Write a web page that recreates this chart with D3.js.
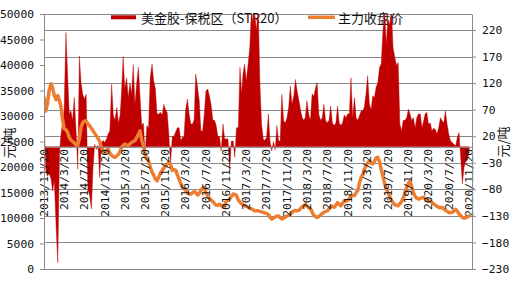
<!DOCTYPE html>
<html><head><meta charset="utf-8">
<script src="https://cdn.jsdelivr.net/npm/d3@7"></script>
<style>body{margin:0;background:#fff}svg{display:block}</style>
</head><body><svg id="c" width="511" height="288"></svg>
<script>
// ---- data (10-day samples) ----
const spread2013=[55,-45,-55,-50];
const spread2014=[-60,-83,-64,-152,-218,-14,20,45,68,215,137,62,68,50,93,30,-42,171,120,99,90,99,-80,-90,-117,-40,5,-5,3,-58,8,12,8,15,24,30];
const spread2015=[118,60,50,74,45,60,100,170,110,130,93,120,100,155,80,120,150,93,40,45,-13,40,35,130,156,124,110,62,62,65,60,80,70,65,24,-33];
const spread2016=[20,20,28,36,36,11,18,18,70,90,62,43,43,50,137,112,87,30,30,60,105,109,96,80,50,50,40,20,20,-8,43,15,15,15,-45,11];
const spread2017=[11,-20,36,36,150,100,137,156,124,156,187,260,230,250,220,260,120,43,15,12,18,62,10,-8,10,-6,40,11,11,99,49,45,55,74,115,80];
const spread2018=[96,127,105,87,68,55,50,55,87,60,50,100,95,110,121,60,50,55,80,50,45,50,77,45,40,45,77,45,40,45,60,55,62,62,130,55];
const spread2019=[93,55,50,60,68,68,75,99,134,80,70,96,93,112,120,150,156,218,260,193,240,230,260,187,168,153,159,43,30,50,50,55,71,62,50,55];
const spread2020=[36,55,62,62,36,49,62,65,43,45,30,35,33,24,35,55,49,45,68,43,24,11,8,5,2,18,27,-20,-70,-39,-26,-25,-8];

const price2013=[33600,31000,32500,35000];
const price2014=[36300,35500,34000,33200,34000,33000,32000,29500,27500,27300,26800,25800,25300,25000,24700,24300,24300,25600,27800,28700,29000,29000,28500,28100,27600,27100,26600,26100,25600,25000,23800,23200,22800,23300,23600,22700];
const price2015=[22300,22000,21900,22200,22500,23100,23800,24200,24500,24300,24200,24500,24800,25000,25150,25800,26400,27100,25200,24200,22500,21600,21200,20000,19000,18400,17700,17300,18000,18800,19300,19800,20200,20600,20900,20500];
const price2016=[19300,19500,19400,18400,17600,16700,16100,15800,15400,14900,14700,14700,14900,15200,15000,14500,14800,15500,15800,16000,14900,14400,13900,13500,13200,12800,12500,12500,12700,12500,12100,12600,13300,13500,13700,14200];
const price2017=[14700,14600,14400,13500,13100,12800,12600,12400,12300,12100,11900,11800,11600,11400,11400,11400,11300,11200,11100,11000,10900,10700,10100,9800,10000,10200,10400,10400,10000,9800,10000,10200,10400,10500,10800,11100];
const price2018=[11400,11500,11400,11500,11900,12200,12400,12700,12300,12000,11800,11200,10500,10300,10100,10300,10600,10900,11100,11300,11400,11800,12300,12300,12100,12500,13000,12700,12400,12900,13400,13400,13400,13800,14300,14400];
const price2019=[14400,15000,15400,17000,18000,18600,19500,20200,20800,21200,20700,20600,21100,21800,21900,21000,19500,18200,16800,15800,15000,14200,13500,13000,12600,12500,12400,12800,13200,13900,15000,16000,16800,17200,16200,15000];
const price2020=[14200,13900,13700,13800,14000,14000,13800,13600,13400,13300,13100,12800,12500,12300,12100,12000,12100,11800,11500,11300,11100,11100,11100,11400,11700,11300,10800,10500,10100,10000,10000,10300,10400];

const xTickLabels=["2013/11/20","2014/3/20","2014/7/20","2014/11/20","2015/3/20","2015/7/20","2015/11/20","2016/3/20","2016/7/20","2016/11/20","2017/3/20","2017/7/20","2017/11/20","2018/3/20","2018/7/20","2018/11/20","2019/3/20","2019/7/20","2019/11/20","2020/3/20","2020/7/20","2020/11/20"];
const leftTicks=[0,5000,10000,15000,20000,25000,30000,35000,40000,45000,50000];
const rightTicks=[220,170,120,70,20,-30,-80,-130,-180,-230];
const seriesNames=["美金胶-保税区（STR20）","主力收盘价"];
const unitLabel="元/吨";
const firstDate="2013-11-21", lastDate="2020-11-21", sampleDays=[1,11,21];

// ---- build ----
const parseDash=d3.timeParse("%Y-%m-%d"), parseSlash=d3.timeParse("%Y/%m/%d");
const d0=parseDash(firstDate), d1=parseDash(lastDate);
const dates=[];
for(let y=2013;y<=2020;y++)for(let m=0;m<12;m++)for(const d of sampleDays){const t=new Date(y,m,d);if(t>=d0&&t<=d1)dates.push(t);}
const spread=[].concat(spread2013,spread2014,spread2015,spread2016,spread2017,spread2018,spread2019,spread2020);
const price=[].concat(price2013,price2014,price2015,price2016,price2017,price2018,price2019,price2020);

const L=44,R=472,T=14,B=269;
const x=d3.scaleTime().domain([new Date(2013,10,20),new Date(2020,11,8)]).range([L,R]);
const yL=d3.scaleLinear().domain([0,50000]).range([B,T]);
const yR=d3.scaleLinear().domain([-230,-230+(B-T)*450/239]).range([B,T]);

const svg=d3.select("#c");
svg.append("rect").attr("width",511).attr("height",288).attr("fill","#fff");
const grid="#8a8a8a";
const numFont="'DejaVu Sans Mono', monospace";
const cjkFont="'Noto Sans CJK SC', sans-serif";

// gridlines (secondary axis) + top border
svg.append("g").selectAll("line").data(rightTicks).join("line")
  .attr("x1",L).attr("x2",R).attr("y1",d=>Math.round(yR(d))+0.5).attr("y2",d=>Math.round(yR(d))+0.5)
  .attr("stroke",grid).attr("stroke-width",1);
svg.append("line").attr("x1",L).attr("x2",R).attr("y1",T+0.5).attr("y2",T+0.5).attr("stroke",grid);

// legend (behind the marks)
const lg=svg.append("g");
lg.append("rect").attr("x",111).attr("y",15.3).attr("width",25).attr("height",4).attr("fill","#C00000");
lg.append("text").attr("x",141).attr("y",17.5).attr("dominant-baseline","central").attr("font-family",cjkFont).attr("font-size",13).attr("fill","#111").text(seriesNames[0]);
lg.append("line").attr("x1",308).attr("x2",335).attr("y1",17.3).attr("y2",17.3).attr("stroke","#ED7D31").attr("stroke-width",3.5);
lg.append("text").attr("x",338).attr("y",17.5).attr("dominant-baseline","central").attr("font-family",cjkFont).attr("font-size",13).attr("fill","#111").text(seriesNames[1]);

svg.append("clipPath").attr("id","pc").append("rect").attr("x",L).attr("y",T).attr("width",R-L).attr("height",B-T);
const plot=svg.append("g").attr("clip-path","url(#pc)");

// spread columns (dense, drawn as a filled profile from the zero line)
const y0=yR(0);
plot.append("path").datum(spread)
  .attr("d",d3.area().x((d,i)=>x(dates[i])).y0(y0).y1(d=>yR(d)))
  .attr("fill","#C00000").attr("stroke","#C00000").attr("stroke-width",0.4);

// line
plot.append("path").datum(price)
  .attr("d",d3.line().x((d,i)=>x(dates[i])).y(d=>yL(d)))
  .attr("fill","none").attr("stroke","#ED7D31").attr("stroke-width",3.5).attr("stroke-linejoin","round").attr("stroke-linecap","round");

// x axis at zero of secondary axis
const xa=svg.append("g").attr("transform",`translate(0,${y0})`)
  .call(d3.axisBottom(x).tickValues(xTickLabels.map(s=>parseSlash(s))).tickFormat((d,i)=>xTickLabels[i]).tickSize(0).tickSizeOuter(0));
xa.select(".domain").attr("stroke",grid);
xa.selectAll("text").attr("y",0).attr("dy",null).attr("x",-2)
  .attr("transform","rotate(-90)").attr("text-anchor","end").attr("dominant-baseline","central")
  .attr("font-family",numFont).attr("font-size",11.3).attr("fill","#111");

// left axis
const la=svg.append("g").attr("transform",`translate(${L},0)`)
  .call(d3.axisLeft(yL).tickValues(leftTicks).tickFormat(d3.format("d")).tickSize(4).tickPadding(6).tickSizeOuter(0));
la.select(".domain").attr("stroke",grid);
la.selectAll("line").attr("stroke",grid);
la.selectAll("text").attr("font-family",numFont).attr("font-size",11.3).attr("fill","#111");

// right axis
const ra=svg.append("g").attr("transform",`translate(${R},0)`)
  .call(d3.axisRight(yR).tickValues(rightTicks).tickSize(4).tickPadding(6).tickSizeOuter(0).tickFormat(d=>String(d).replace("-","−")));
ra.select(".domain").attr("stroke",grid);
ra.selectAll("line").attr("stroke",grid);
ra.selectAll("text").attr("font-family",numFont).attr("font-size",11.3).attr("fill","#111");

// unit labels
svg.append("text").attr("transform","translate(8,143) rotate(-90)").attr("text-anchor","middle").attr("dominant-baseline","central")
  .attr("font-family",cjkFont).attr("font-size",13).attr("fill","#111").text(unitLabel);
svg.append("text").attr("transform","translate(502,142) rotate(-90)").attr("text-anchor","middle").attr("dominant-baseline","central")
  .attr("font-family",cjkFont).attr("font-size",13).attr("fill","#111").text(unitLabel);
</script></body></html>
